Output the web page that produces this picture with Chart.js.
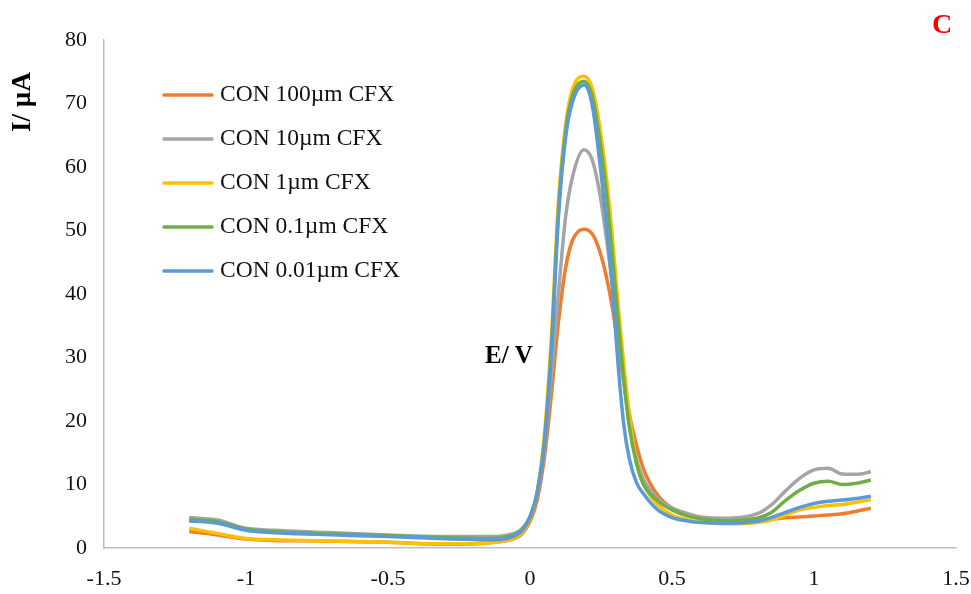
<!DOCTYPE html>
<html>
<head>
<meta charset="utf-8">
<script src="https://cdn.jsdelivr.net/npm/chart.js@4/dist/chart.umd.min.js"></script>
<style>
  html, body { margin: 0; padding: 0; background: #fff; }
  #wrap { width: 971px; height: 594px; }
</style>
</head>
<body>
<div id="wrap"><canvas id="cv" width="971" height="594"></canvas></div>
<script>
// potential (V) - shared by all curves
const potential = [-1.2, -1.1, -1.0, -0.9, -0.75, -0.5, -0.3, -0.15, -0.05, -0.025, 0, 0.025, 0.05, 0.075, 0.1, 0.125, 0.15, 0.19, 0.22, 0.245, 0.27, 0.29, 0.31, 0.33, 0.35, 0.375, 0.4, 0.45, 0.5, 0.55, 0.6, 0.7, 0.8, 0.85, 0.9, 0.95, 1.0, 1.05, 1.1, 1.15, 1.2];

// current (µA) per concentration
const con100 = [2.6, 2.05, 1.4, 1.2, 1.1, 0.9, 0.6, 0.8, 1.6, 2.4, 4.2, 7.5, 14, 24, 35.5, 44, 48.5, 50.2, 49.4, 46.8, 42.5, 37.8, 32, 26.2, 21, 16.2, 12.4, 8.3, 6.3, 5.4, 4.8, 4.5, 4.5, 4.6, 4.75, 4.9, 5.05, 5.2, 5.4, 5.8, 6.25];
const con10 = [4.8, 4.4, 3.1, 2.8, 2.5, 2.05, 1.8, 1.8, 2.4, 3.2, 4.9, 8.3, 15.5, 27, 40, 52, 58.5, 62.7, 61, 56, 48.5, 41.5, 34, 26.5, 19.8, 14, 10.8, 7.8, 6.3, 5.5, 4.9, 4.7, 5.4, 6.8, 9.0, 11.0, 12.3, 12.55, 11.65, 11.6, 12.0];
const con1 = [3.1, 2.3, 1.5, 1.3, 1.15, 0.9, 0.65, 0.8, 1.7, 2.6, 4.6, 8.8, 17.5, 33, 54.5, 66.5, 72.3, 74.3, 72.3, 66.5, 58, 49, 38.5, 29, 21, 13.5, 10, 6.8, 5.2, 4.5, 4.1, 3.8, 4.0, 4.4, 5.2, 6.0, 6.4, 6.7, 6.85, 7.2, 7.6];
const con01 = [4.5, 4.1, 3.0, 2.6, 2.3, 1.95, 1.6, 1.5, 2.2, 3.0, 4.9, 8.7, 16.5, 31.5, 53, 65.5, 71.3, 73.5, 71, 64.5, 55.5, 46, 36, 26.5, 19, 13.3, 10, 7.4, 6.0, 5.1, 4.6, 4.3, 4.7, 5.6, 7.5, 9.1, 10.2, 10.5, 10.0, 10.2, 10.7];
const con001 = [4.25, 3.9, 2.8, 2.4, 2.15, 1.8, 1.45, 1.3, 2.0, 2.9, 4.9, 8.5, 16, 30.5, 52, 64.5, 70.3, 72.9, 69.5, 61, 50.5, 41, 29, 19.5, 14, 10.3, 8.5, 6.0, 4.8, 4.3, 4.0, 3.9, 4.2, 4.8, 5.6, 6.4, 7.0, 7.35, 7.55, 7.8, 8.15];

const seriesNames = ['CON 100µm CFX', 'CON 10µm CFX', 'CON 1µm CFX', 'CON 0.1µm CFX', 'CON 0.01µm CFX'];
const seriesData = [con100, con10, con1, con01, con001];
const seriesColors = ['#ED7D31', '#A5A5A5', '#FFC000', '#70AD47', '#5B9BD5'];

const serif = "'Liberation Serif', 'Times New Roman', serif";

function toPoints(values) {
    return values.map((v, i) => ({ x: potential[i], y: v }));
}

const datasets = seriesData.map((vals, i) => ({
    label: seriesNames[i],
    data: toPoints(vals),
    borderColor: seriesColors[i],
    backgroundColor: seriesColors[i],
    borderWidth: 3.5,
    pointRadius: 0,
    cubicInterpolationMode: 'monotone',
    fill: false,
    // later series painted on top
    order: seriesData.length - 1 - i
}));

// legend inside the plot + free text labels
const extras = {
    id: 'extras',
    afterDraw(chart) {
        const c = chart.ctx;
        c.save();
        // legend
        c.font = '23.5px ' + serif;
        c.textBaseline = 'middle';
        c.textAlign = 'left';
        chart.data.datasets.forEach((ds, i) => {
            const y = 95 + i * 44;
            c.strokeStyle = ds.borderColor;
            c.lineWidth = 3.5;
            c.lineCap = 'round';
            c.beginPath();
            c.moveTo(164, y);
            c.lineTo(212, y);
            c.stroke();
            c.fillStyle = '#111';
            c.fillText(ds.label, 220, y);
        });
        // axis titles
        c.font = 'bold 25px ' + serif;
        c.fillStyle = '#000';
        c.fillText('E/ V', 485, 357);
        c.save();
        c.translate(23, 102);
        c.rotate(-Math.PI / 2);
        c.textAlign = 'center';
        c.font = 'bold 27px ' + serif;
        c.fillText('I/ µA', 0, 0);
        c.restore();
        // panel letter
        c.font = 'bold 28px ' + serif;
        c.fillStyle = '#FF0000';
        c.textAlign = 'center';
        c.fillText('C', 942, 26);
        c.restore();
    }
};

new Chart(document.getElementById('cv'), {
    type: 'line',
    data: { datasets: datasets },
    options: {
        responsive: false,
        animation: false,
        layout: { padding: { top: 40, right: 15, left: 0, bottom: 0 } },
        plugins: {
            legend: { display: false },
            tooltip: { enabled: false }
        },
        scales: {
            x: {
                type: 'linear',
                min: -1.5,
                max: 1.5,
                ticks: {
                    stepSize: 0.5,
                    color: '#111',
                    font: { family: serif, size: 22 },
                    padding: 10,
                    maxRotation: 0,
                    callback: (v) => String(Math.round(v * 10) / 10)
                },
                grid: { display: false },
                border: { display: true, color: '#bfbfbf', width: 1.5 },
                afterFit(scale) {
                    scale.height = 46;
                    scale.paddingLeft = 0;
                    scale.paddingRight = 0;
                }
            },
            y: {
                min: 0,
                max: 80,
                ticks: { stepSize: 10, color: '#111', font: { family: serif, size: 22 }, padding: 9 },
                grid: { display: false },
                border: { display: true, color: '#bfbfbf', width: 1.5 },
                afterFit(scale) { scale.width = 104; }
            }
        }
    },
    plugins: [extras]
});
</script>
</body>
</html>
